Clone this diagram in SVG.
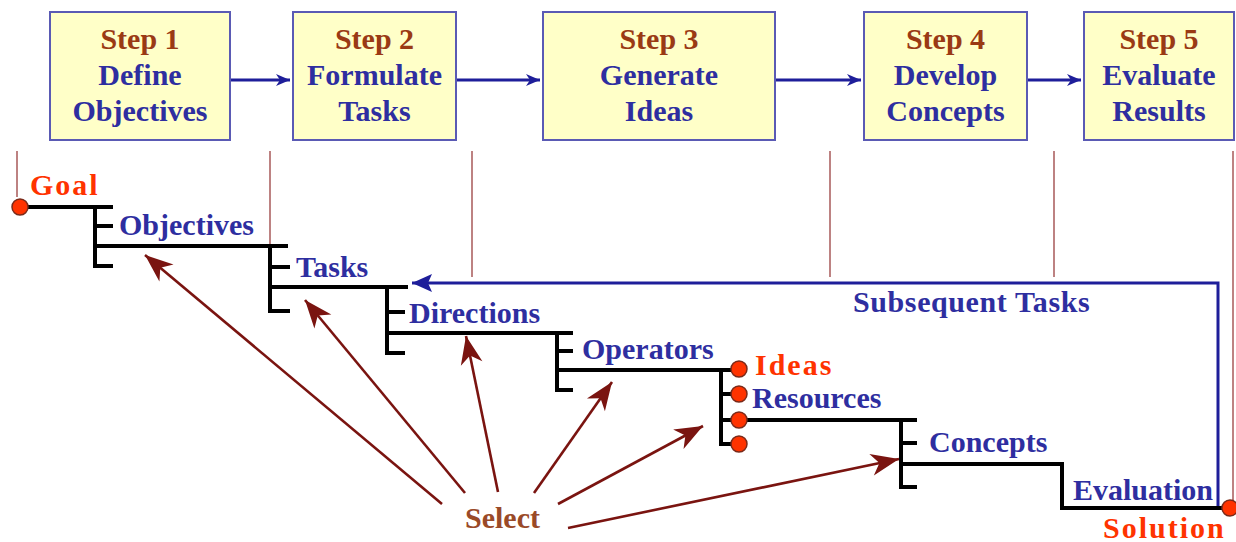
<svg xmlns="http://www.w3.org/2000/svg" width="1236" height="542" viewBox="0 0 1236 542">
<style>
text{font-family:"Liberation Serif","Times New Roman",serif;font-weight:bold;font-size:30px}
.box{fill:#FFFFC8;stroke:#5A5AB4;stroke-width:2}
.st{fill:#9A3A14;text-anchor:middle}
.bl{fill:#2E2EA0}
.bc{fill:#2E2EA0;text-anchor:middle}
.rd{fill:#FF3300;letter-spacing:2px}
.sel{fill:#9A4A28}
.tree{fill:none;stroke:#000;stroke-width:4;stroke-linejoin:miter}
.guide{fill:none;stroke:#A85A5A;stroke-width:1.5}
.flow{fill:none;stroke:#1E1E9A;stroke-width:3}
.sa{fill:none;stroke:#7A1410;stroke-width:2.6}
.dot{fill:#FF3300;stroke:#7A2A1A;stroke-width:1.5}
</style>
<defs>
<marker id="ab" markerUnits="userSpaceOnUse" markerWidth="20" markerHeight="14" refX="14" refY="6" orient="auto" overflow="visible">
<path d="M14,6 L0,0 L4,6 L0,12 Z" fill="#1E1E9A"/>
</marker>
<marker id="ab2" markerUnits="userSpaceOnUse" markerWidth="24" markerHeight="20" refX="20" refY="9" orient="auto" overflow="visible">
<path d="M20,9 L0,0 L4,9 L0,18 Z" fill="#1E1E9A"/>
</marker>
<marker id="ar" markerUnits="userSpaceOnUse" markerWidth="30" markerHeight="24" refX="28" refY="11" orient="auto" overflow="visible">
<path d="M28,11 L0,0 L8,11 L0,22 Z" fill="#7A1410"/>
</marker>
</defs>

<g id="guides">
<path class="guide" d="M17,151 V197 M270,151 V246 M472,151 V277 M830,151 V277 M1054,151 V277 M1233,151 V500"/>
</g>

<g id="step1"><rect class="box" x="50" y="12" width="180" height="128"/>
<text class="st" x="140" y="49">Step 1</text><text class="bc" x="140" y="85">Define</text><text class="bc" x="140" y="121">Objectives</text></g>
<g id="step2"><rect class="box" x="293" y="12" width="163" height="128"/>
<text class="st" x="374.5" y="49">Step 2</text><text class="bc" x="374.5" y="85">Formulate</text><text class="bc" x="374.5" y="121">Tasks</text></g>
<g id="step3"><rect class="box" x="543" y="12" width="232" height="128"/>
<text class="st" x="659" y="49">Step 3</text><text class="bc" x="659" y="85">Generate</text><text class="bc" x="659" y="121">Ideas</text></g>
<g id="step4"><rect class="box" x="864" y="12" width="163" height="128"/>
<text class="st" x="945.5" y="49">Step 4</text><text class="bc" x="945.5" y="85">Develop</text><text class="bc" x="945.5" y="121">Concepts</text></g>
<g id="step5"><rect class="box" x="1084" y="12" width="150" height="128"/>
<text class="st" x="1159" y="49">Step 5</text><text class="bc" x="1159" y="85">Evaluate</text><text class="bc" x="1159" y="121">Results</text></g>

<g id="connectors">
<path class="flow" d="M231,80 H290" marker-end="url(#ab)"/>
<path class="flow" d="M457,80 H540" marker-end="url(#ab)"/>
<path class="flow" d="M776,80 H861" marker-end="url(#ab)"/>
<path class="flow" d="M1028,80 H1081" marker-end="url(#ab)"/>
<path class="flow" d="M1218,506 V283 H412" marker-end="url(#ab2)"/>
<path class="sa" d="M442,504 L145,255" marker-end="url(#ar)"/>
<path class="sa" d="M465,493 L305,300" marker-end="url(#ar)"/>
<path class="sa" d="M498,492 L466,336" marker-end="url(#ar)"/>
<path class="sa" d="M534,493 L612,382" marker-end="url(#ar)"/>
<path class="sa" d="M558,504 L703,426" marker-end="url(#ar)"/>
<path class="sa" d="M568,528 L899,459" marker-end="url(#ar)"/>
</g>

<g id="tree">
<path class="tree" d="M20,207 H113 M95,207 V266 H113 M95,226 H113 M95,246 H288"/>
<path class="tree" d="M270,246 V311 H290 M270,267 H290 M270,287 H408"/>
<path class="tree" d="M387,287 V353 H405 M387,312 H405 M387,333 H573"/>
<path class="tree" d="M557,333 V390 H573 M557,351 H573 M557,370 H739"/>
<path class="tree" d="M721,370 V444 H739 M721,394 H739 M721,420 H917"/>
<path class="tree" d="M901,420 V487 H917 M901,443 H917 M901,464 H1062 V508 H1230"/>
</g>

<g id="goal"><circle class="dot" cx="20" cy="207" r="8"/><text class="rd" x="30" y="195">Goal</text></g>
<g id="objectives"><text class="bl" x="119" y="235">Objectives</text></g>
<g id="tasks"><text class="bl" x="296" y="277">Tasks</text></g>
<g id="directions"><text class="bl" x="409" y="323">Directions</text></g>
<g id="operators"><text class="bl" x="582" y="359">Operators</text></g>
<g id="ideas">
<circle class="dot" cx="739" cy="369" r="8"/><circle class="dot" cx="739" cy="394" r="8"/><circle class="dot" cx="739" cy="420" r="8"/><circle class="dot" cx="739" cy="444" r="8"/>
<text class="rd" x="755" y="375">Ideas</text></g>
<g id="resources"><text class="bl" x="752" y="408">Resources</text></g>
<g id="concepts"><text class="bl" x="929" y="452">Concepts</text></g>
<g id="evaluation"><text class="bl" x="1073" y="500">Evaluation</text></g>
<g id="solution"><circle class="dot" cx="1230" cy="508" r="8"/><text class="rd" x="1103" y="538">Solution</text></g>
<g id="subsequent"><text class="bl" x="853" y="312" letter-spacing="0.6">Subsequent Tasks</text></g>
<g id="select"><text class="sel" x="465" y="528">Select</text></g>
</svg>
